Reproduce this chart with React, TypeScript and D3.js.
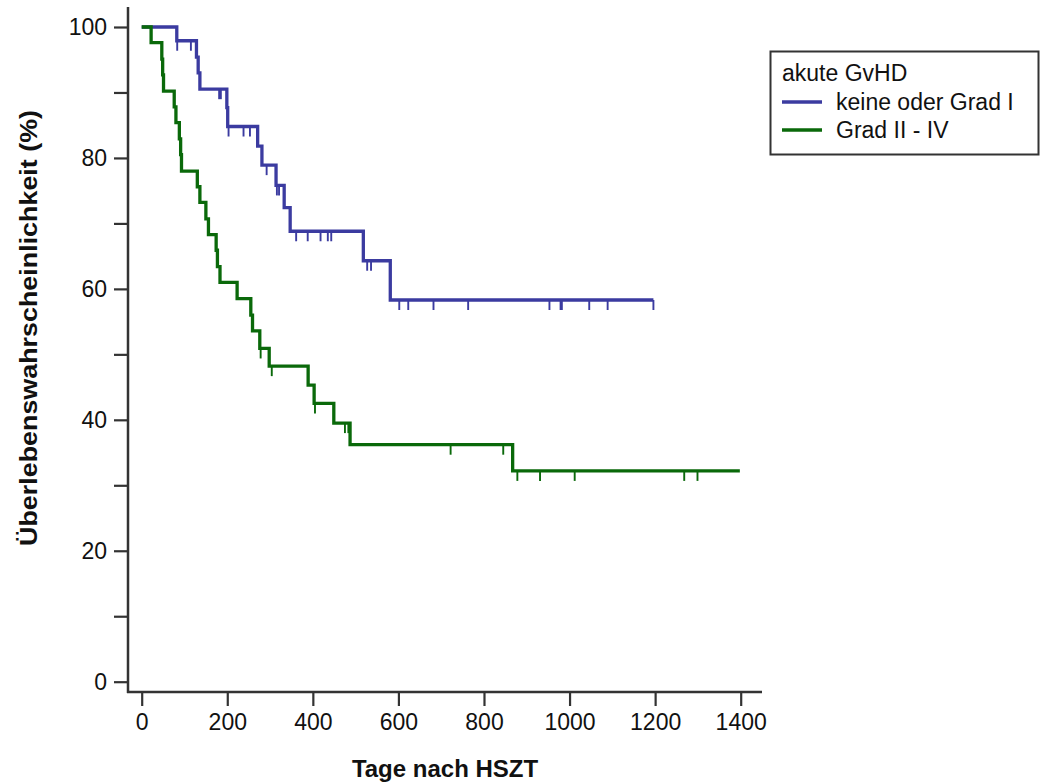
import { useEffect, useRef } from 'react';
import * as d3 from 'd3';

// Kaplan-Meier steps: day of each event and survival (%) after it
const groupLabels = ['keine oder Grad I', 'Grad II - IV'];
const groupColors = ['#3b3ba0', '#0a690a'];

const blueDays = [0, 82, 128, 132, 136, 199, 201, 271, 281, 314, 333, 347, 518, 581, 1196];
const blueSurv = [100, 97.9, 95.4, 93.0, 90.5, 87.7, 84.8, 81.8, 78.9, 75.8, 72.4, 68.8, 64.3, 58.3, 58.3];
const blueCensored = [83, 115, 181, 185, 203, 238, 253, 292, 316, 321, 361, 388, 418, 435, 443, 527, 536, 602, 623, 682, 763, 953, 979, 982, 1046, 1089, 1196];

const greenDays = [0, 22, 47, 49, 51, 76, 80, 88, 91, 93, 130, 136, 150, 156, 174, 177, 183, 223, 255, 259, 276, 298, 389, 403, 449, 487, 867, 1398];
const greenSurv = [100, 97.6, 95.1, 92.7, 90.2, 87.8, 85.4, 82.9, 80.5, 78.0, 75.6, 73.2, 70.7, 68.3, 65.9, 63.4, 61.0, 58.5, 56.0, 53.6, 50.9, 48.2, 45.3, 42.5, 39.5, 36.2, 32.2, 32.2];
const greenCensored = [278, 304, 405, 475, 483, 722, 845, 878, 931, 1012, 1268, 1299];

const xTicks = [0, 200, 400, 600, 800, 1000, 1200, 1400];
const yTicks = [0, 10, 20, 30, 40, 50, 60, 70, 80, 90, 100];

const FONT = '"Liberation Sans", Arial, sans-serif';

const x = d3.scaleLinear().domain([0, 1400]).range([141.7, 740.7]);
const y = d3.scaleLinear().domain([0, 100]).range([681.7, 27]);

const series = [
  { days: blueDays, surv: blueSurv, cens: blueCensored },
  { days: greenDays, surv: greenSurv, cens: greenCensored },
];

const levelAt = (days: number[], surv: number[], t: number) => {
  const i = d3.bisectRight(days, t) - 1;
  return surv[Math.max(0, i)];
};

const App = () => {
  const yAxisRef = useRef<SVGGElement>(null);
  const xAxisRef = useRef<SVGGElement>(null);

  useEffect(() => {
    const ya = d3.select(yAxisRef.current!);
    ya.call(
      d3.axisLeft(y)
        .tickValues(yTicks)
        .tickSize(14)
        .tickPadding(7)
        .tickFormat((d) => ((d as number) % 20 === 0 ? String(d) : '')) as any
    );
    ya.select('.domain').remove();
    ya.selectAll('line').attr('stroke', '#333').attr('stroke-width', 2.2);
    ya.selectAll('text').attr('font-family', FONT).attr('font-size', 23).attr('fill', '#111');

    const xa = d3.select(xAxisRef.current!);
    xa.call(
      d3.axisBottom(x)
        .tickValues(xTicks)
        .tickSize(14)
        .tickPadding(8)
        .tickFormat(d3.format('d') as any) as any
    );
    xa.select('.domain').remove();
    xa.selectAll('line').attr('stroke', '#333').attr('stroke-width', 2.2);
    xa.selectAll('text').attr('font-family', FONT).attr('font-size', 23).attr('fill', '#111');
  }, []);

  const stepLine = d3
    .line<[number, number]>()
    .x((d) => x(d[0]))
    .y((d) => y(d[1]))
    .curve(d3.curveStepAfter);

  return (
    <svg width={1045} height={782} style={{ position: 'absolute', left: 0, top: 0, background: '#fff' }}>
      {series.map((s, i) => (
        <g key={i}>
          <path
            d={stepLine(s.days.map((d, j) => [d, s.surv[j]] as [number, number])) || ''}
            fill="none"
            stroke={groupColors[i]}
            strokeWidth={3.3}
          />
          {s.cens.map((c, j) => {
            const lv = y(levelAt(s.days, s.surv, c));
            return (
              <line key={j} x1={x(c)} x2={x(c)} y1={lv} y2={lv + 10} stroke={groupColors[i]} strokeWidth={1.9} />
            );
          })}
        </g>
      ))}

      {/* axes */}
      <line x1={128} x2={128} y1={7} y2={693} stroke="#333" strokeWidth={2.5} />
      <line x1={127} x2={762} y1={692} y2={692} stroke="#333" strokeWidth={2.5} />
      <g ref={yAxisRef} transform="translate(128,0)" />
      <g ref={xAxisRef} transform="translate(0,692)" />

      <text
        transform="translate(37,328) scale(1,1.12) rotate(-90)"
        textAnchor="middle"
        fontFamily={FONT}
        fontWeight="bold"
        fontSize={24}
        fill="#111"
      >
        Überlebenswahrscheinlichkeit (%)
      </text>
      <text x={445} y={777} textAnchor="middle" fontFamily={FONT} fontWeight="bold" fontSize={24} fill="#111">
        Tage nach HSZT
      </text>

      {/* legend */}
      <rect x={770.5} y={51.5} width={268} height={103} fill="#fff" stroke="#333" strokeWidth={2} />
      <text x={782} y={81} fontFamily={FONT} fontSize={23} fill="#111">
        akute GvHD
      </text>
      {groupLabels.map((lab, i) => (
        <g key={lab}>
          <line x1={782} x2={822} y1={102 + i * 28} y2={102 + i * 28} stroke={groupColors[i]} strokeWidth={3.3} />
          <text x={836} y={110 + i * 28} fontFamily={FONT} fontSize={23} fill="#111">
            {lab}
          </text>
        </g>
      ))}
    </svg>
  );
};

export default App;
